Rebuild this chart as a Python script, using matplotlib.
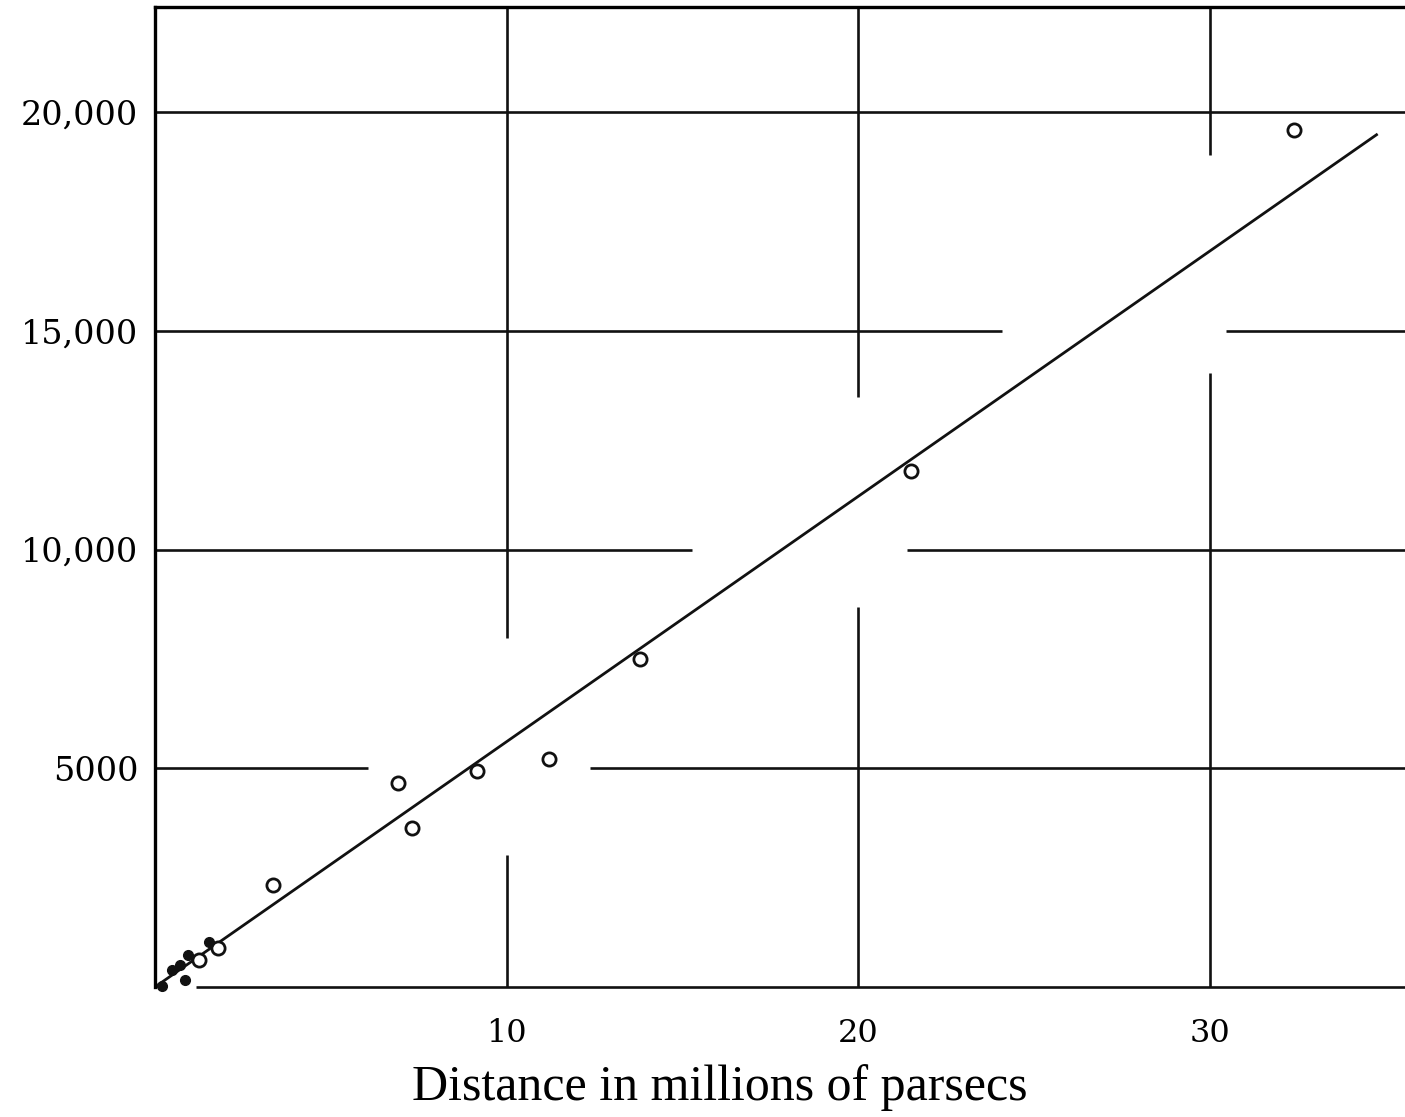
import numpy as np
import matplotlib.pyplot as plt

# cluster means (open circles)
dist = [32.4, 21.5, 13.8, 11.2, 9.15, 6.9, 7.3, 3.35, 1.8, 1.25]
vel = [19600, 11800, 7500, 5210, 4940, 4660, 3630, 2330, 890, 620]

# individual nebulae near the origin (black dots)
near_dist = [0.2, 0.48, 0.7, 0.94, 0.85, 1.54]
near_vel = [20, 390, 500, 730, 160, 1040]

# fitted relation
fit_dist = [0, 34.75]
fit_vel = [0, 19480]

xticks = [10, 20, 30]
xticklabels = ['10', '20', '30']
yticks = [5000, 10000, 15000, 20000]
yticklabels = ['5000', '10,000', '15,000', '20,000']

xmax = 35.56
ymax = 22400

# grid lines with the printed gaps
hgrid_y = [20000, 15000, 10000, 5000, 0]
hgrid_spans = [[(0, xmax)],
               [(0, 24.1), (30.47, xmax)],
               [(0, 15.28), (21.4, xmax)],
               [(0, 6.06), (12.38, xmax)],
               [(1.17, xmax)]]
vgrid_x = [10, 20, 30]
vgrid_spans = [[(7977, ymax), (0, 3017)],
               [(13486, ymax), (0, 8686)],
               [(19017, ymax), (0, 14034)]]

fig = plt.figure(figsize=(14.05, 11.17), dpi=100)
ax = fig.add_axes([155 / 1405, 1 - 987 / 1117, 1 - 155 / 1405, 980 / 1117])

for y, spans in zip(hgrid_y, hgrid_spans):
    for a, b in spans:
        ax.plot([a, b], [y, y], color='#111111', lw=1.9,
                solid_capstyle='butt', clip_on=False)
for x, spans in zip(vgrid_x, vgrid_spans):
    for a, b in spans:
        ax.plot([x, x], [a, b], color='#111111', lw=1.9,
                solid_capstyle='butt', clip_on=False)

ax.plot(fit_dist, fit_vel, color='#111111', lw=2.0)
ax.plot(dist, vel, 'o', ms=9.5, mfc='white', mec='#111111', mew=2.0)
ax.plot(near_dist, near_vel, 'o', ms=7, color='#111111', clip_on=False)

ax.set_xlim(0, xmax)
ax.set_ylim(0, ymax)
ax.spines['right'].set_visible(False)
ax.spines['bottom'].set_visible(False)
ax.spines['left'].set_linewidth(2.4)
ax.spines['top'].set_linewidth(2.4)

ax.set_xticks(xticks)
ax.set_xticklabels(xticklabels, family='DejaVu Serif', fontsize=23)
ax.set_yticks(yticks)
ax.set_yticklabels(yticklabels, family='DejaVu Serif', fontsize=24)
ax.tick_params(axis='x', length=0, pad=22)
ax.tick_params(axis='y', length=0, pad=12)
fig.text(720 / 1405, 1 - 1088 / 1117, 'Distance in millions of parsecs',
         family='Liberation Serif', fontsize=36, ha='center', va='center')

fig.savefig('out.png', dpi=100)
